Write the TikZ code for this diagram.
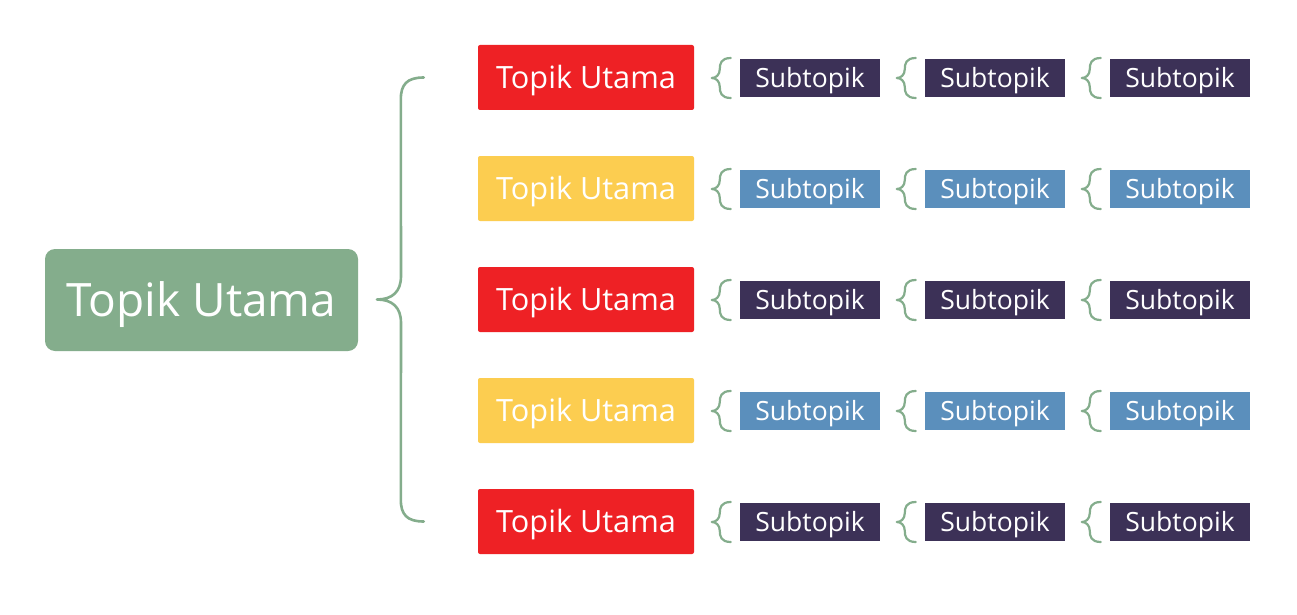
\documentclass[tikz,border=0pt]{standalone}
\usepackage{fontspec}
\setmainfont{Open Sans}
\usetikzlibrary{calc}
\definecolor{rootgreen}{HTML}{84AD8C}
\definecolor{tred}{HTML}{EE2125}
\definecolor{tyellow}{HTML}{FCCD50}
\definecolor{sdark}{HTML}{3C3157}
\definecolor{sblue}{HTML}{5B8FBC}
\definecolor{bracegreen}{HTML}{84AD8C}
\tikzset{
  rootbox/.style={fill=rootgreen, text=white, rounded corners=10pt, minimum width=313pt, minimum height=102pt, inner sep=0pt, text height=32.8pt, text depth=0pt, font=\fontsize{46}{52}\selectfont},
  mainbox/.style={text=white, rounded corners=2pt, minimum width=216pt, minimum height=65pt, inner sep=0pt, text height=21.9pt, text depth=0pt, font=\fontsize{30.7}{36}\selectfont},
  subbox/.style={text=white, minimum width=140pt, minimum height=38pt, inner sep=0pt, text height=18.9pt, text depth=0pt, font=\fontsize{26.5}{30}\selectfont},
  bracepath/.style={draw=bracegreen, line width=2.6pt, line cap=round, line join=round},
  smallbrace/.style={draw=bracegreen, line width=2.2pt, line cap=round, line join=round},
}
\begin{document}
\begin{tikzpicture}[x=1pt,y=-1pt]
\useasboundingbox (0,0) rectangle (1297,615);
\fill[white] (0,0) rectangle (1297,615);
\node[rootbox] (root) at (201.5,300) {Topik Utama};
\foreach \i/\c/\s in {1/tred/sdark,2/tyellow/sblue,3/tred/sdark,4/tyellow/sblue,5/tred/sdark}{
  \pgfmathsetmacro{\yy}{77.5+111*(\i-1)}
  \node[mainbox, fill=\c] (m\i) at (586,\yy) {Topik Utama};
  \foreach \j/\xx in {1/810,2/995,3/1180}{
    \node[subbox, fill=\s] (s\i\j) at (\xx,\yy+0.5) {Subtopik};
    \draw[smallbrace] ($(s\i\j.west)+(-9,-20)$) .. controls +(-10,0) and +(0,-5) .. ($(s\i\j.west)+(-20,-9)$)
      .. controls +(0,6) and +(4,0) .. ($(s\i\j.west)+(-28,0)$)
      .. controls +(4,0) and +(0,-6) .. ($(s\i\j.west)+(-20,9)$)
      .. controls +(0,5) and +(-10,0) .. ($(s\i\j.west)+(-9,20)$);
  }
}
\coordinate (btip) at (377,299.5);
\coordinate (btop) at ($(m1.west)+(-54,0)$);
\coordinate (bbot) at ($(m5.west)+(-54,0)$);
\draw[bracepath] (btop) .. controls +(-17,0) and +(0,-15) .. ($(btop)+(-23,22)$)
  -- (401,276) .. controls (401,292) and (392,299.5) .. (btip)
  .. controls (392,299.5) and (401,307) .. (401,323)
  -- ($(bbot)+(-23,-22)$) .. controls +(0,15) and +(-17,0) .. (bbot);
\end{tikzpicture}
\end{document}
